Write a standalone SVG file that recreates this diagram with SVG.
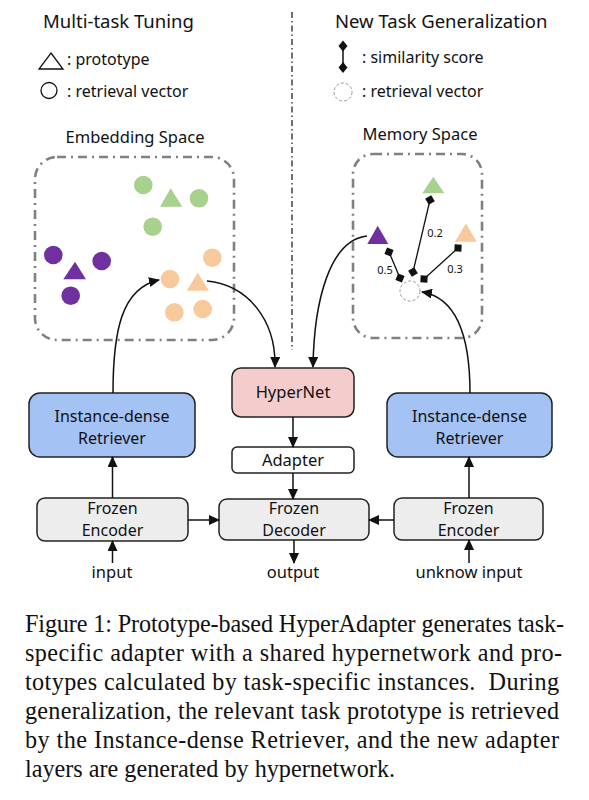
<svg xmlns="http://www.w3.org/2000/svg" width="589" height="800" viewBox="0 0 589 800">
<defs>
<style>
.t{font-family:"Noto Sans","Liberation Sans",sans-serif;fill:#111;}
.two{font-size:16px;}
.cap{font-family:"Liberation Serif","Times New Roman",serif;font-size:24.2px;fill:#111;}
.box{stroke:#222;stroke-width:1.5;}
.space{fill:none;stroke:#808080;stroke-width:2.6;stroke-dasharray:9 5 2 5;}
.conn{fill:none;stroke:#111;stroke-width:1.5;}
.sim{fill:none;stroke:#111;stroke-width:1.3;marker-start:url(#dia);marker-end:url(#dia);}
.g{fill:#a9d18e;}
.p{fill:#7030a0;}
.o{fill:#f8c99b;}
</style>
<marker id="arr" markerUnits="userSpaceOnUse" markerWidth="11" markerHeight="10" refX="10" refY="5" orient="auto">
<path d="M0,0 L11,5 L0,10 z" fill="#111"/>
</marker>
<marker id="dia" markerUnits="userSpaceOnUse" markerWidth="10" markerHeight="10" refX="5" refY="5" orient="auto">
<path d="M0,5 L5,0 L10,5 L5,10 z" fill="#111"/>
</marker>
</defs>
<rect width="589" height="800" fill="#fff"/>

<!-- divider -->
<line x1="292" y1="12" x2="292" y2="350" stroke="#111" stroke-width="1.2" stroke-dasharray="6 3 1.5 3"/>

<!-- legends -->
<g id="legend-left">
<text class="t" x="43" y="28" font-size="18.5">Multi-task Tuning</text>
<path d="M51,53 L63,69 L39,69 z" fill="none" stroke="#111" stroke-width="1.3"/>
<text class="t" x="67" y="65" font-size="16">: prototype</text>
<circle cx="49" cy="90.5" r="8" fill="none" stroke="#111" stroke-width="1.3"/>
<text class="t" x="67" y="97" font-size="16">: retrieval vector</text>
</g>
<g id="legend-right">
<text class="t" x="335" y="28" font-size="18.5">New Task Generalization</text>
<line x1="343" y1="46" x2="343" y2="67" stroke="#111" stroke-width="1.5"/>
<path d="M343,40.5 L347.5,46 L343,51.5 L338.5,46 z" fill="#111"/>
<path d="M343,62 L347.5,67.5 L343,73 L338.5,67.5 z" fill="#111"/>
<text class="t" x="362" y="63" font-size="16">: similarity score</text>
<circle cx="343" cy="92" r="9" fill="none" stroke="#999" stroke-width="1" stroke-dasharray="3 2"/>
<text class="t" x="362" y="97" font-size="16">: retrieval vector</text>
</g>

<!-- embedding space -->
<g id="embedding-space">
<text class="t" x="135" y="142.5" font-size="16.5" text-anchor="middle">Embedding Space</text>
<rect class="space" x="35" y="157" width="199" height="183" rx="22"/>
<circle class="g" cx="143.3" cy="185" r="9.3"/>
<path class="g" d="M170.7,188.3 L182.3,206.7 L160,206.7 z"/>
<circle class="g" cx="199" cy="198.3" r="9.3"/>
<circle class="g" cx="152.7" cy="226.7" r="9.3"/>
<circle class="p" cx="53.3" cy="255" r="9.3"/>
<circle class="p" cx="101.7" cy="261" r="9.3"/>
<path class="p" d="M75,261.7 L86,279.3 L63.3,279.3 z"/>
<circle class="p" cx="70.7" cy="295.7" r="9.3"/>
<circle class="o" cx="212.3" cy="257.7" r="9.3"/>
<circle class="o" cx="170" cy="279" r="9.3"/>
<path class="o" d="M197.7,272.7 L209,290.7 L186.7,290.7 z"/>
<circle class="o" cx="174.3" cy="312.3" r="9.3"/>
<circle class="o" cx="202.7" cy="309" r="9.3"/>
</g>

<!-- memory space -->
<g id="memory-space">
<text class="t" x="420" y="140" font-size="16.5" text-anchor="middle">Memory Space</text>
<rect class="space" x="353" y="154" width="129" height="184" rx="20"/>
<path class="g" d="M433.3,176.7 L444.3,193.3 L422.3,193.3 z"/>
<path class="p" d="M377.7,225.7 L388.3,244 L367.3,244 z"/>
<path class="o" d="M466,223.3 L476.7,241.7 L455,241.7 z"/>
<circle cx="410" cy="291" r="10" fill="none" stroke="#999" stroke-width="1" stroke-dasharray="3 2"/>
<line class="sim" x1="389" y1="252" x2="400" y2="278"/>
<line class="sim" x1="430" y1="200" x2="413" y2="272"/>
<line class="sim" x1="458" y1="248" x2="424" y2="279"/>
<text class="t" x="385" y="274" font-size="11" text-anchor="middle">0.5</text>
<text class="t" x="435" y="237" font-size="11" text-anchor="middle">0.2</text>
<text class="t" x="455" y="273" font-size="11" text-anchor="middle">0.3</text>
</g>

<!-- nodes -->
<g id="retriever-left">
<rect class="box" x="29" y="393" width="166" height="64" rx="11" fill="#a4c2f4"/>
<text class="t two" x="112" y="422" text-anchor="middle">Instance-dense</text>
<text class="t two" x="112" y="444" text-anchor="middle">Retriever</text>
</g>
<g id="hypernet">
<rect class="box" x="232" y="368" width="122" height="49" rx="9" fill="#f4cccc"/>
<text class="t" x="293" y="398" font-size="16.5" text-anchor="middle">HyperNet</text>
</g>
<g id="retriever-right">
<rect class="box" x="387" y="393" width="165" height="64" rx="11" fill="#a4c2f4"/>
<text class="t two" x="469.5" y="422" text-anchor="middle">Instance-dense</text>
<text class="t two" x="469.5" y="444" text-anchor="middle">Retriever</text>
</g>
<g id="adapter">
<rect class="box" x="232" y="447" width="122" height="26" rx="5" fill="#fff"/>
<text class="t" x="293" y="466" font-size="16.5" text-anchor="middle">Adapter</text>
</g>
<g id="encoder-left">
<rect class="box" x="37" y="498" width="151" height="43" rx="8" fill="#ededed"/>
<text class="t two" x="112.5" y="514" text-anchor="middle">Frozen</text>
<text class="t two" x="112.5" y="536" text-anchor="middle">Encoder</text>
</g>
<g id="decoder">
<rect class="box" x="219" y="499" width="150" height="41" rx="8" fill="#ededed"/>
<text class="t two" x="294" y="514" text-anchor="middle">Frozen</text>
<text class="t two" x="294" y="536" text-anchor="middle">Decoder</text>
</g>
<g id="encoder-right">
<rect class="box" x="394" y="498" width="149" height="42" rx="8" fill="#ededed"/>
<text class="t two" x="468.5" y="514" text-anchor="middle">Frozen</text>
<text class="t two" x="468.5" y="536" text-anchor="middle">Encoder</text>
</g>
<g id="labels">
<text class="t" x="112" y="578" font-size="16.5" text-anchor="middle">input</text>
<text class="t" x="293" y="578" font-size="16.5" text-anchor="middle">output</text>
<text class="t" x="469" y="578" font-size="16.5" text-anchor="middle">unknow input</text>
</g>

<!-- connectors -->
<g id="connectors" class="conn">
<path class="conn" d="M113,393 C113,330 122,288 159,280" marker-end="url(#arr)"/>
<path class="conn" d="M207,281 C248,285 276,320 275,367" marker-end="url(#arr)"/>
<path class="conn" d="M367,236 C330,240 314,300 313,367" marker-end="url(#arr)"/>
<path class="conn" d="M470,393 C470,338 458,298 422,292" marker-end="url(#arr)"/>
<line class="conn" x1="293" y1="417" x2="293" y2="447" marker-end="url(#arr)"/>
<line class="conn" x1="293" y1="473" x2="293" y2="499" marker-end="url(#arr)"/>
<line class="conn" x1="188" y1="520" x2="219" y2="520" marker-end="url(#arr)"/>
<line class="conn" x1="394" y1="520" x2="369" y2="520" marker-end="url(#arr)"/>
<line class="conn" x1="112.5" y1="498" x2="112.5" y2="457" marker-end="url(#arr)"/>
<line class="conn" x1="112.5" y1="563" x2="112.5" y2="541" marker-end="url(#arr)"/>
<line class="conn" x1="294" y1="540" x2="294" y2="563" marker-end="url(#arr)"/>
<line class="conn" x1="469" y1="498" x2="469" y2="457" marker-end="url(#arr)"/>
<line class="conn" x1="469" y1="563" x2="469" y2="540" marker-end="url(#arr)"/>
</g>

<!-- caption -->
<g id="caption">
<text class="cap" x="25" y="632" textLength="539" lengthAdjust="spacing">Figure 1: Prototype-based HyperAdapter generates task-</text>
<text class="cap" x="25" y="661" textLength="537" lengthAdjust="spacing">specific adapter with a shared hypernetwork and pro-</text>
<text class="cap" x="25" y="690" textLength="534" lengthAdjust="spacing">totypes calculated by task-specific instances.&#160; During</text>
<text class="cap" x="25" y="719" textLength="534" lengthAdjust="spacing">generalization, the relevant task prototype is retrieved</text>
<text class="cap" x="25" y="748" textLength="534" lengthAdjust="spacing">by the Instance-dense Retriever, and the new adapter</text>
<text class="cap" x="25" y="777">layers are generated by hypernetwork.</text>
</g>
</svg>
